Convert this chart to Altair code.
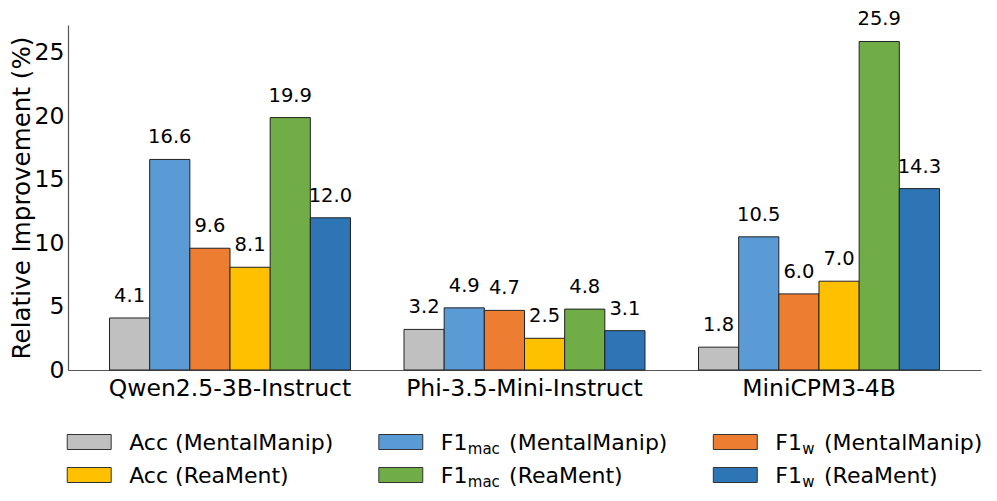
import altair as alt
import pandas as pd

models = ["Qwen2.5-3B-Instruct", "Phi-3.5-Mini-Instruct", "MiniCPM3-4B"]
series = ["Acc (MentalManip)", "F1mac (MentalManip)", "F1w (MentalManip)",
          "Acc (ReaMent)", "F1mac (ReaMent)", "F1w (ReaMent)"]
colors = ["#C0C0C0", "#5B9BD5", "#ED7D31", "#FFC000", "#70AD47", "#2E75B6"]

acc_mm = [4.1, 3.2, 1.8]
f1mac_mm = [16.6, 4.9, 10.5]
f1w_mm = [9.6, 4.7, 6.0]
acc_rm = [8.1, 2.5, 7.0]
f1mac_rm = [19.9, 4.8, 25.9]
f1w_rm = [12.0, 3.1, 14.3]

leg_prefix = ["Acc (MentalManip)", "F1", "F1", "Acc (ReaMent)", "F1", "F1"]
leg_sub = ["", "mac", "w", "", "mac", "w"]
leg_suffix = ["", "(MentalManip)", "(MentalManip)", "", "(ReaMent)", "(ReaMent)"]
leg_col = [0, 1, 2, 0, 1, 2]
leg_row = [0, 0, 0, 1, 1, 1]

FONT = "DejaVu Sans"

all_vals = [acc_mm, f1mac_mm, f1w_mm, acc_rm, f1mac_rm, f1w_rm]
rows = []
for s, vals in zip(series, all_vals):
    for m, v in zip(models, vals):
        rows.append({"model": m, "series": s, "value": v, "label": f"{v:.1f}"})
df = pd.DataFrame(rows)

color = alt.Color("series:N", sort=series,
                  scale=alt.Scale(domain=series, range=colors), legend=None)
x = alt.X("model:N", sort=models,
          scale=alt.Scale(paddingInner=0.1817, paddingOuter=0.141),
          axis=alt.Axis(title=None, labelAngle=0, labelFontSize=23.5, ticks=False,
                        labelLimit=0, labelPadding=6, domainColor="#555", domainWidth=1.2))
xo = alt.XOffset("series:N", sort=series, scale=alt.Scale(paddingInner=0, paddingOuter=0))
y = alt.Y("value:Q", scale=alt.Scale(domain=[0, 27.2], nice=False),
          axis=alt.Axis(title="Relative Improvement (%)", values=[0, 5, 10, 15, 20, 25],
                        grid=False, ticks=False, labelFontSize=23.5, titleFontSize=24.6,
                        titleFontWeight="normal", labelPadding=4, titlePadding=0,
                        domainColor="#555", domainWidth=1.2))

bars = alt.Chart(df).mark_bar(stroke="#222", strokeWidth=1).encode(x=x, xOffset=xo, y=y, color=color)
labels = alt.Chart(df).mark_text(dy=-16, baseline="alphabetic", fontSize=19.5, font=FONT,
                                 color="black").encode(x=x, xOffset=xo, y=y, text="label:N")
main = alt.layer(bars, labels).properties(width=913, height=345)

leg = pd.DataFrame({"series": series, "col": leg_col, "row": leg_row,
                    "prefix": leg_prefix, "sub": leg_sub, "suffix": leg_suffix})
lx = alt.X("col:Q", scale=alt.Scale(domain=[0, 1, 2], range=[21.2, 332.8, 667.3]), axis=None)
ly = alt.Y("row:Q", scale=alt.Scale(domain=[0, 1], range=[15, 48]), axis=None)

swatch = alt.Chart(leg).mark_point(
    shape="M-2.93,-1L2.93,-1L2.93,1L-2.93,1Z", size=225, filled=True, opacity=1,
    stroke="#333", strokeWidth=1).encode(x=lx, y=ly, color=color)
tp = alt.Chart(leg).mark_text(align="left", baseline="alphabetic", dx=40, dy=8,
                              fontSize=22, font=FONT, color="black").encode(x=lx, y=ly, text="prefix:N")
ts = alt.Chart(leg).transform_filter("datum.col > 0").mark_text(
    align="left", baseline="alphabetic", dx=67, dy=12, fontSize=15, font=FONT,
    color="black").encode(x=lx, y=ly, text="sub:N")
tf1 = alt.Chart(leg).transform_filter("datum.col == 1").mark_text(
    align="left", baseline="alphabetic", dx=108.3, dy=8, fontSize=22, font=FONT,
    color="black").encode(x=lx, y=ly, text="suffix:N")
tf2 = alt.Chart(leg).transform_filter("datum.col == 2").mark_text(
    align="left", baseline="alphabetic", dx=88.7, dy=8, fontSize=22, font=FONT,
    color="black").encode(x=lx, y=ly, text="suffix:N")
legend_chart = alt.layer(swatch, tp, ts, tf1, tf2).properties(width=913, height=60)

chart = (alt.vconcat(main, legend_chart, spacing=26)
         .resolve_scale(x="independent", y="independent")
         .properties(padding=0)
         .configure_view(stroke="transparent")
         .configure_axis(labelFont=FONT, titleFont=FONT, labelColor="black", titleColor="black")
         .configure_text(font=FONT))

chart.save("out.html", embed_options={"renderer": "svg", "actions": False})
